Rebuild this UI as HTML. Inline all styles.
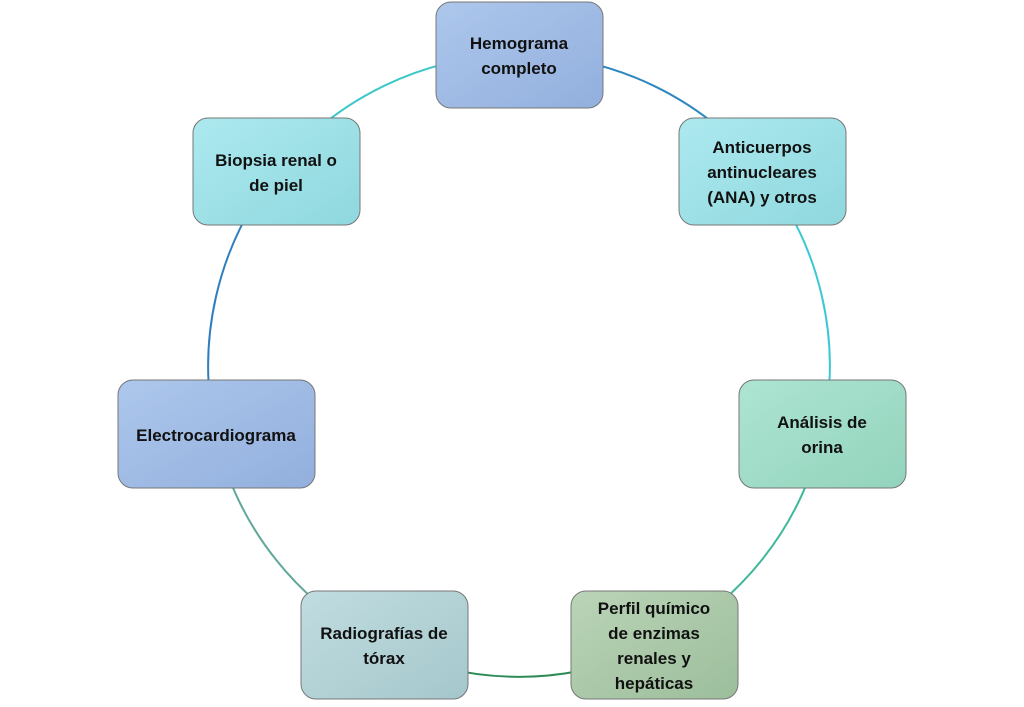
<!DOCTYPE html>
<html><head><meta charset="utf-8"><style>
html,body{margin:0;padding:0;background:#fff;width:1024px;height:707px;overflow:hidden}
text{font-family:"Liberation Sans",sans-serif;font-weight:bold;font-size:17px;fill:#111}
</style></head><body>
<svg width="1024" height="707" viewBox="0 0 1024 707" xmlns="http://www.w3.org/2000/svg">
<defs>
<linearGradient id="gb" x1="0" y1="0" x2="1" y2="1"><stop offset="0" stop-color="#adc7ec"/><stop offset="1" stop-color="#92afdd"/></linearGradient>
<linearGradient id="gc" x1="0" y1="0" x2="1" y2="1"><stop offset="0" stop-color="#ace9ef"/><stop offset="1" stop-color="#8fd8de"/></linearGradient>
<linearGradient id="go" x1="0" y1="0" x2="1" y2="1"><stop offset="0" stop-color="#ade5d2"/><stop offset="1" stop-color="#93d3bc"/></linearGradient>
<linearGradient id="gp" x1="0" y1="0" x2="1" y2="1"><stop offset="0" stop-color="#bad4b7"/><stop offset="1" stop-color="#9cbe9b"/></linearGradient>
<linearGradient id="gr" x1="0" y1="0" x2="1" y2="1"><stop offset="0" stop-color="#c0dde1"/><stop offset="1" stop-color="#a5c7cb"/></linearGradient>
</defs>
<g fill="none" stroke-width="2">
<path d="M519,55 A311,311 0 0 1 762,172" stroke="#2e86c1"/>
<path d="M762,172 A311,311 0 0 1 822,435" stroke="#3cc8d2"/>
<path d="M822,435 A311,311 0 0 1 654,646" stroke="#3fb89a"/>
<path d="M654,646 A311,311 0 0 1 384,646" stroke="#2e8b57"/>
<path d="M384,646 A311,311 0 0 1 216,435" stroke="#5fa89a"/>
<path d="M216,435 A311,311 0 0 1 276,172" stroke="#2f7fc0"/>
<path d="M276,172 A311,311 0 0 1 519,55" stroke="#3cc8c8"/>
</g>
<g stroke="#777" stroke-width="1">
<rect x="436" y="2" width="167" height="106" rx="15" fill="url(#gb)"/>
<rect x="679" y="118" width="167" height="107" rx="15" fill="url(#gc)"/>
<rect x="739" y="380" width="167" height="108" rx="15" fill="url(#go)"/>
<rect x="571" y="591" width="167" height="108" rx="15" fill="url(#gp)"/>
<rect x="301" y="591" width="167" height="108" rx="15" fill="url(#gr)"/>
<rect x="118" y="380" width="197" height="108" rx="15" fill="url(#gb)"/>
<rect x="193" y="118" width="167" height="107" rx="15" fill="url(#gc)"/>
</g>
<g text-anchor="middle">
<text x="519" y="49">Hemograma</text><text x="519" y="74">completo</text>
<text x="762" y="153">Anticuerpos</text><text x="762" y="178">antinucleares</text><text x="762" y="203">(ANA) y otros</text>
<text x="822" y="428">Análisis de</text><text x="822" y="453">orina</text>
<text x="654" y="614">Perfil químico</text><text x="654" y="639">de enzimas</text><text x="654" y="664">renales y</text><text x="654" y="689">hepáticas</text>
<text x="384" y="639">Radiografías de</text><text x="384" y="664">tórax</text>
<text x="216" y="441">Electrocardiograma</text>
<text x="276" y="166">Biopsia renal o</text><text x="276" y="191">de piel</text>
</g>
</svg>
</body></html>
